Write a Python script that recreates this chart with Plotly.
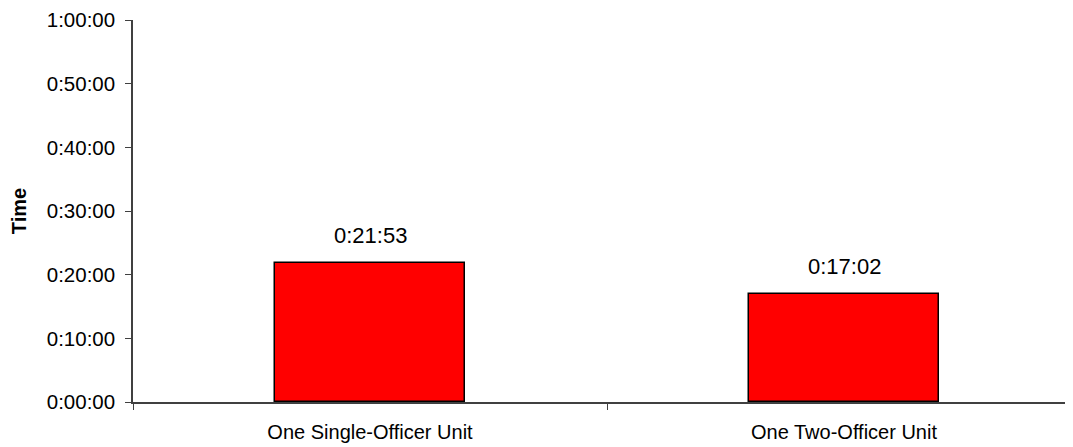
import plotly.graph_objects as go

categories = ["One Single-Officer Unit", "One Two-Officer Unit"]
values_sec = [1313, 1022]  # 0:21:53, 0:17:02
value_labels = ["0:21:53", "0:17:02"]
tick_vals = [0, 600, 1200, 1800, 2400, 3000, 3600]
tick_text = ["0:00:00", "0:10:00", "0:20:00", "0:30:00", "0:40:00", "0:50:00", "1:00:00"]

FONT = "Liberation Sans, Arial, sans-serif"

fig = go.Figure()
fig.add_trace(go.Bar(
    x=categories, y=values_sec, width=0.40,
    marker=dict(color="#FF0000", line=dict(color="#000000", width=1.5)),
    showlegend=False, hoverinfo="skip",
))
for c, v, t in zip(categories, values_sec, value_labels):
    fig.add_annotation(x=c, y=v, text=t, showarrow=False, yanchor="bottom",
                       yshift=13, font=dict(family=FONT, size=22, color="#000000"))

fig.update_layout(
    width=1073, height=447,
    margin=dict(l=125, r=0, t=12, b=53, autoexpand=False),
    paper_bgcolor="white", plot_bgcolor="white",
    font=dict(family=FONT, size=20, color="#000000"),
    bargap=0,
)
fig.update_xaxes(
    type="category", range=[-0.5, 1.5], automargin=False,
    showline=True, linecolor="#404040", linewidth=1.5,
    ticks="outside", tickson="boundaries", ticklen=6, tickcolor="#404040",
    showgrid=False, zeroline=False, tickfont=dict(size=20),
    ticklabelstandoff=11,
)
fig.update_yaxes(
    range=[0, 3600], tickvals=tick_vals, ticktext=tick_text, automargin=False,
    showline=True, linecolor="#404040", linewidth=1.5,
    ticks="outside", ticklen=6, tickcolor="#404040",
    showgrid=False, zeroline=False, tickfont=dict(size=20.5),
    ticklabelstandoff=6,
    title=dict(text="<b>Time</b>", font=dict(size=20), standoff=19),
)

fig.write_html("out.html")
